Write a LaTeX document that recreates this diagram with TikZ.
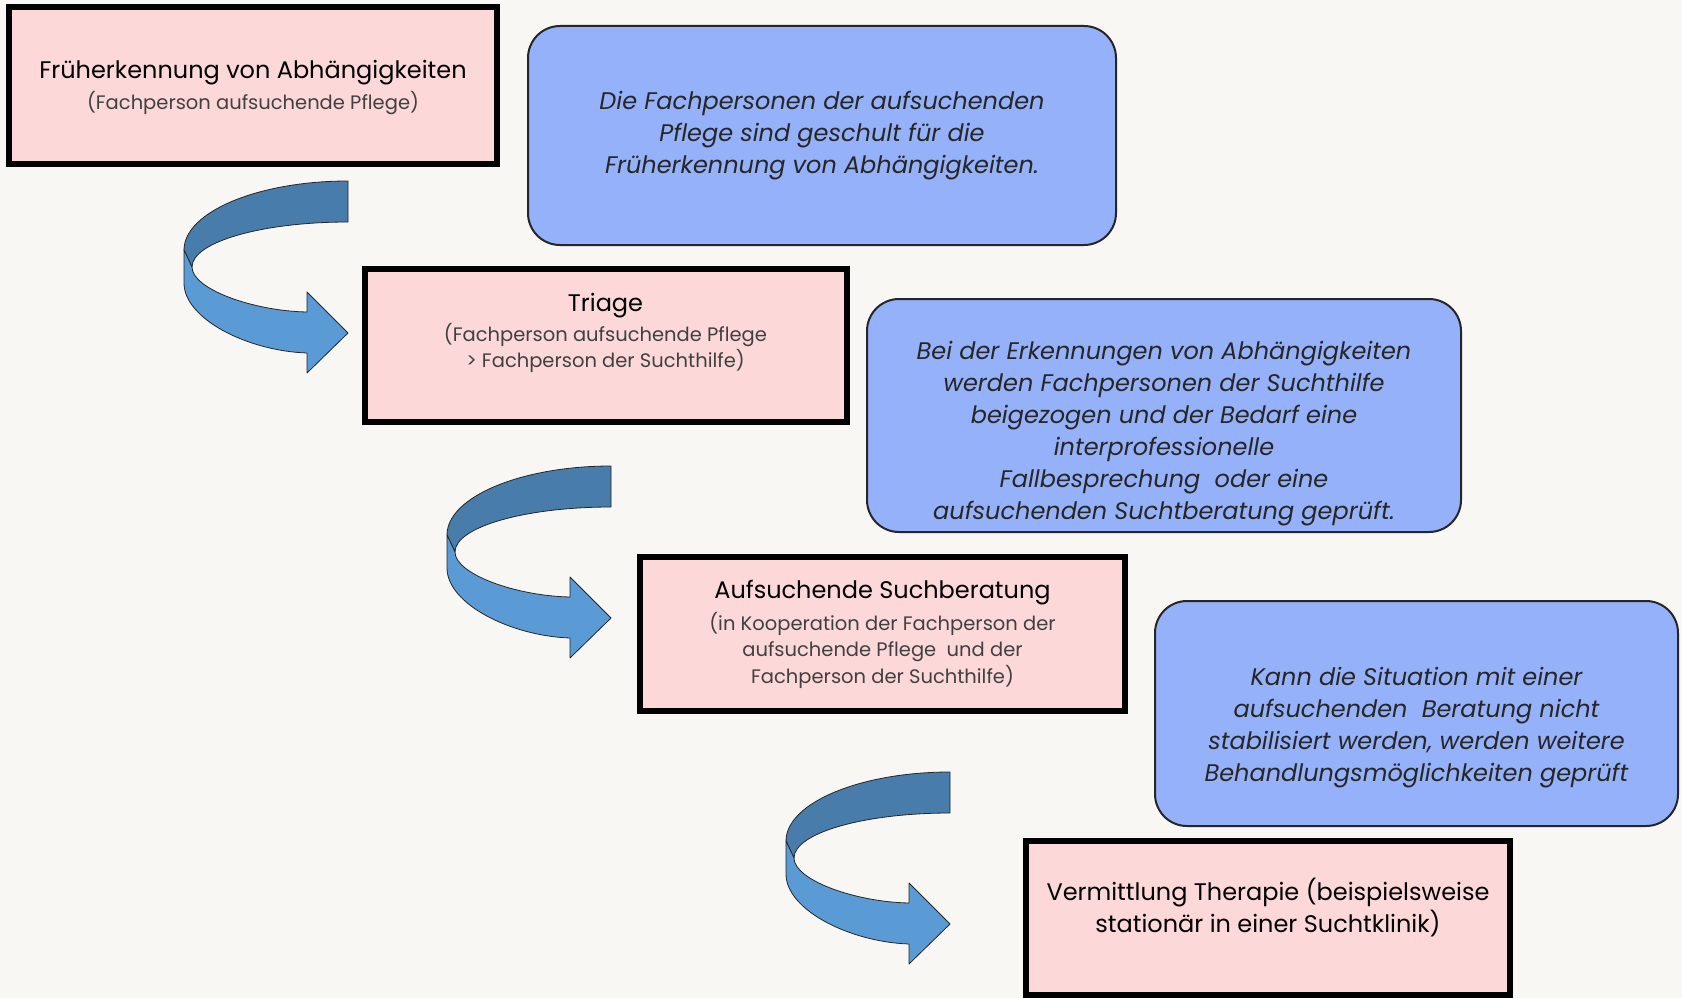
\documentclass[tikz,border=0pt]{standalone}
\usepackage{fontspec}
\setmainfont{Poppins}

\definecolor{paper}{HTML}{F8F7F4}
\definecolor{steppink}{HTML}{FCD9D8}
\definecolor{infoblue}{HTML}{95B1F9}
\definecolor{arrowdark}{HTML}{477CAB}
\definecolor{arrowlight}{HTML}{5B9BD5}

\begin{document}
\begin{tikzpicture}[x=1pt, y=-1pt,
		stepbox/.style={rectangle, draw=black, line width=6pt, fill=steppink, inner sep=0pt},
		infobox/.style={rectangle, draw=black!85, line width=2pt, fill=infoblue, rounded corners=32pt, inner sep=0pt},
		steptitle/.style={font=\fontsize{24}{30}\selectfont, align=center, text=black},
		stepsub/.style={font=\fontsize{19.5}{26.5}\selectfont, align=center, text=black!75},
		infotext/.style={font=\fontsize{24}{32}\selectfont\itshape, align=center, text=black!85},
		twist/.style={draw=black!85, line width=0.8pt, line join=round}]

	\fill[paper] (0,0) rectangle (1682,998);
	\useasboundingbox (0,0) rectangle (1682,998);

	% steps
	\node[stepbox, minimum width=488, minimum height=157] (fru) at (253,85.5) {};
	\node[stepbox, minimum width=482, minimum height=153] (tri) at (605.5,345.5) {};
	\node[stepbox, minimum width=485, minimum height=154] (ber) at (882.5,634) {};
	\node[stepbox, minimum width=484, minimum height=154] (the) at (1268,918) {};

	\node[steptitle] (fruT) at (253,73) {Früherkennung von Abhängigkeiten};
	\node[stepsub] (fruS) at (253,103) {(Fachperson aufsuchende Pflege)};
	\node[steptitle] (triT) at (605.5,306) {Triage};
	\node[stepsub] (triS) at (605.5,348) {(Fachperson aufsuchende Pflege\\ > Fachperson der Suchthilfe)};
	\node[steptitle] (berT) at (882.5,593) {Aufsuchende Suchberatung};
	\node[stepsub] (berS) at (882.5,650) {(in Kooperation der Fachperson der\\aufsuchende Pflege\ \ und der\\Fachperson der Suchthilfe)};
	\node[steptitle, font=\fontsize{24}{32}\selectfont] (theT) at (1268,907.5) {Vermittlung Therapie (beispielsweise\\stationär in einer Suchtklinik)};

	% remarks
	\node[infobox, minimum width=588, minimum height=219] (info1) at (822,135.5) {};
	\node[infobox, minimum width=594, minimum height=233] (info2) at (1164,415.5) {};
	\node[infobox, minimum width=523, minimum height=225] (info3) at (1416.5,713.5) {};

	\node[infotext] (info1T) at (822,136) {Die Fachpersonen der aufsuchenden\\Pflege sind geschult für die\\Früherkennung von Abhängigkeiten.};
	\node[infotext] (info2T) at (1164,433.5) {Bei der Erkennungen von Abhängigkeiten\\werden Fachpersonen der Suchthilfe\\beigezogen und der Bedarf eine\\interprofessionelle\\Fallbesprechung\ \ oder eine\\aufsuchenden Suchtberatung geprüft.};
	\node[infotext] (info3T) at (1416.5,728) {Kann die Situation mit einer\\aufsuchenden\ \ Beratung nicht\\stabilisiert werden, werden weitere\\Behandlungsmöglichkeiten geprüft};

	% curved arrows
	\foreach \ax/\ay in {348/181, 611/466, 950/772}{
		\begin{scope}[shift={(\ax,\ay)}]
			\filldraw[twist, fill=arrowdark] (0,0) .. controls (-90,0) and (-164,31) .. (-164,69)
				-- (-156,86) .. controls (-156,61) and (-86,41) .. (0,41) -- cycle;
			\filldraw[twist, fill=arrowlight] (-164,69) -- (-164,102)
				.. controls (-164,138) and (-100,170) .. (-41,172)
				-- (-41,192) -- (0,152) -- (-41,111) -- (-41,131)
				.. controls (-95,130) and (-156,108) .. (-156,86) -- cycle;
		\end{scope}
	}
\end{tikzpicture}
\end{document}
